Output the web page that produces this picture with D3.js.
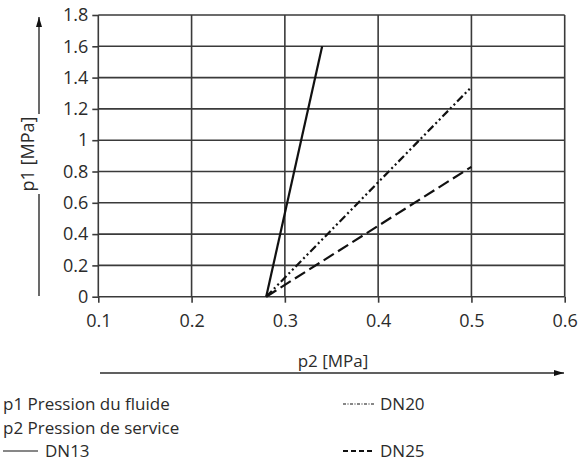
<!DOCTYPE html>
<html>
<head>
<meta charset="utf-8">
<script src="https://cdn.jsdelivr.net/npm/d3@7"></script>
<style>
  body { margin: 0; background: #fff; }
  svg { display: block; font-family: "Open Sans", sans-serif; }
</style>
</head>
<body>
<svg id="chart" width="581" height="462"></svg>
<script>
// values
const xTicks = [0.1, 0.2, 0.3, 0.4, 0.5, 0.6]
const yTicks = [0, 0.2, 0.4, 0.6, 0.8, 1, 1.2, 1.4, 1.6, 1.8]
const seriesNames = ['DN13', 'DN20', 'DN25']
const dn13 = [{ p2: 0.28, p1: 0 }, { p2: 0.34, p1: 1.6 }]
const dn20 = [{ p2: 0.28, p1: 0 }, { p2: 0.5, p1: 1.34 }]
const dn25 = [{ p2: 0.28, p1: 0 }, { p2: 0.5, p1: 0.83 }]
const notes = ['p1 Pression du fluide', 'p2 Pression de service']

const series = [
    { name: seriesNames[0], values: dn13, dash: null, width: 2.2 },
    { name: seriesNames[1], values: dn20, dash: '8,3,2,3,2,3', width: 2.2 },
    { name: seriesNames[2], values: dn25, dash: '12,5', width: 2.2 }
]

const svg = d3.select('#chart')
const ink = '#2b2b2b'
const grid = '#3a3a3a'

const x = d3.scaleLinear().domain([0.1, 0.6]).range([98.3, 564.7])
const y = d3.scaleLinear().domain([0, 1.8]).range([296.7, 15])

// grid
svg.append('g').selectAll('line')
    .data(yTicks)
    .join('line')
    .attr('x1', x(0.1)).attr('x2', x(0.6))
    .attr('y1', d => y(d)).attr('y2', d => y(d))
    .attr('stroke', grid).attr('stroke-width', 1.6)

svg.append('g').selectAll('line')
    .data(xTicks)
    .join('line')
    .attr('x1', d => x(d)).attr('x2', d => x(d))
    .attr('y1', y(0)).attr('y2', y(1.8))
    .attr('stroke', grid).attr('stroke-width', 1.6)

// axes (ticks + labels only)
const yAxis = d3.axisLeft(y).tickValues(yTicks).tickSize(6).tickPadding(4).tickFormat(d => String(d))
const gy = svg.append('g').attr('transform', `translate(${x(0.1)},0)`).call(yAxis)
const xAxis = d3.axisBottom(x).tickValues(xTicks).tickSize(6).tickPadding(12).tickFormat(d => String(d))
const gx = svg.append('g').attr('transform', `translate(0,${y(0)})`).call(xAxis)

for (const g of [gx, gy]) {
    g.select('.domain').remove()
    g.selectAll('.tick line').attr('stroke', grid).attr('stroke-width', 1.6)
    g.selectAll('.tick text')
        .attr('fill', ink)
        .style('font-size', '18px')
        .style('font-family', '"Open Sans", sans-serif')
}

// data lines
const line = d3.line().x(d => x(d.p2)).y(d => y(d.p1))
svg.append('g').selectAll('path')
    .data(series)
    .join('path')
    .attr('d', d => line(d.values))
    .attr('fill', 'none')
    .attr('stroke', '#111')
    .attr('stroke-width', d => d.width)
    .attr('stroke-dasharray', d => d.dash)

// arrows
svg.append('defs').append('marker')
    .attr('id', 'arrow')
    .attr('viewBox', '0 0 10 6')
    .attr('refX', 10).attr('refY', 3)
    .attr('markerWidth', 10).attr('markerHeight', 6)
    .attr('markerUnits', 'userSpaceOnUse')
    .attr('orient', 'auto')
    .append('path').attr('d', 'M0,0 L10,3 L0,6 Z').attr('fill', '#111')

svg.append('line')
    .attr('x1', 39).attr('x2', 39).attr('y1', 296).attr('y2', 17)
    .attr('stroke', ink).attr('stroke-width', 1.4)
    .attr('marker-end', 'url(#arrow)')
svg.append('line')
    .attr('x1', 100).attr('x2', 564).attr('y1', 373).attr('y2', 373)
    .attr('stroke', ink).attr('stroke-width', 1.4)
    .attr('marker-end', 'url(#arrow)')

// y label sits over the arrow on a white patch
const yl = svg.append('g').attr('transform', 'translate(34,154) rotate(-90)')
yl.append('rect').attr('x', -40).attr('y', -17).attr('width', 80).attr('height', 24).attr('fill', '#fff')
yl.append('text')
    .attr('text-anchor', 'middle')
    .attr('fill', ink)
    .style('font-size', '18px')
    .text('p1 [MPa]')

svg.append('text')
    .attr('x', 333).attr('y', 367)
    .attr('text-anchor', 'middle')
    .attr('fill', ink)
    .style('font-size', '17px')
    .text('p2 [MPa]')

// legend
svg.append('g').selectAll('text')
    .data(notes)
    .join('text')
    .attr('x', 3)
    .attr('y', (d, i) => 410 + i * 23.5)
    .attr('fill', ink)
    .style('font-size', '17px')
    .text(d => d)

const legendPos = [
    { x: 3, y: 457, len: 35, tx: 45 },
    { x: 343, y: 410, len: 32, tx: 380 },
    { x: 343, y: 457, len: 30, tx: 380 }
]
const legendDash = [null, '3,1.5,1,1.5', '5,3']
const lg = svg.append('g').selectAll('g')
    .data(series)
    .join('g')
    .attr('transform', (d, i) => `translate(${legendPos[i].x},${legendPos[i].y})`)
lg.append('line')
    .attr('x1', 0).attr('x2', (d, i) => legendPos[i].len)
    .attr('y1', -6).attr('y2', -6)
    .attr('stroke', '#111')
    .attr('stroke-width', (d, i) => i === 2 ? 2 : 1.2)
    .attr('stroke-dasharray', (d, i) => legendDash[i])
lg.append('text')
    .attr('x', (d, i) => legendPos[i].tx - legendPos[i].x)
    .attr('fill', ink)
    .style('font-size', '17px')
    .text(d => d.name)
</script>
</body>
</html>
